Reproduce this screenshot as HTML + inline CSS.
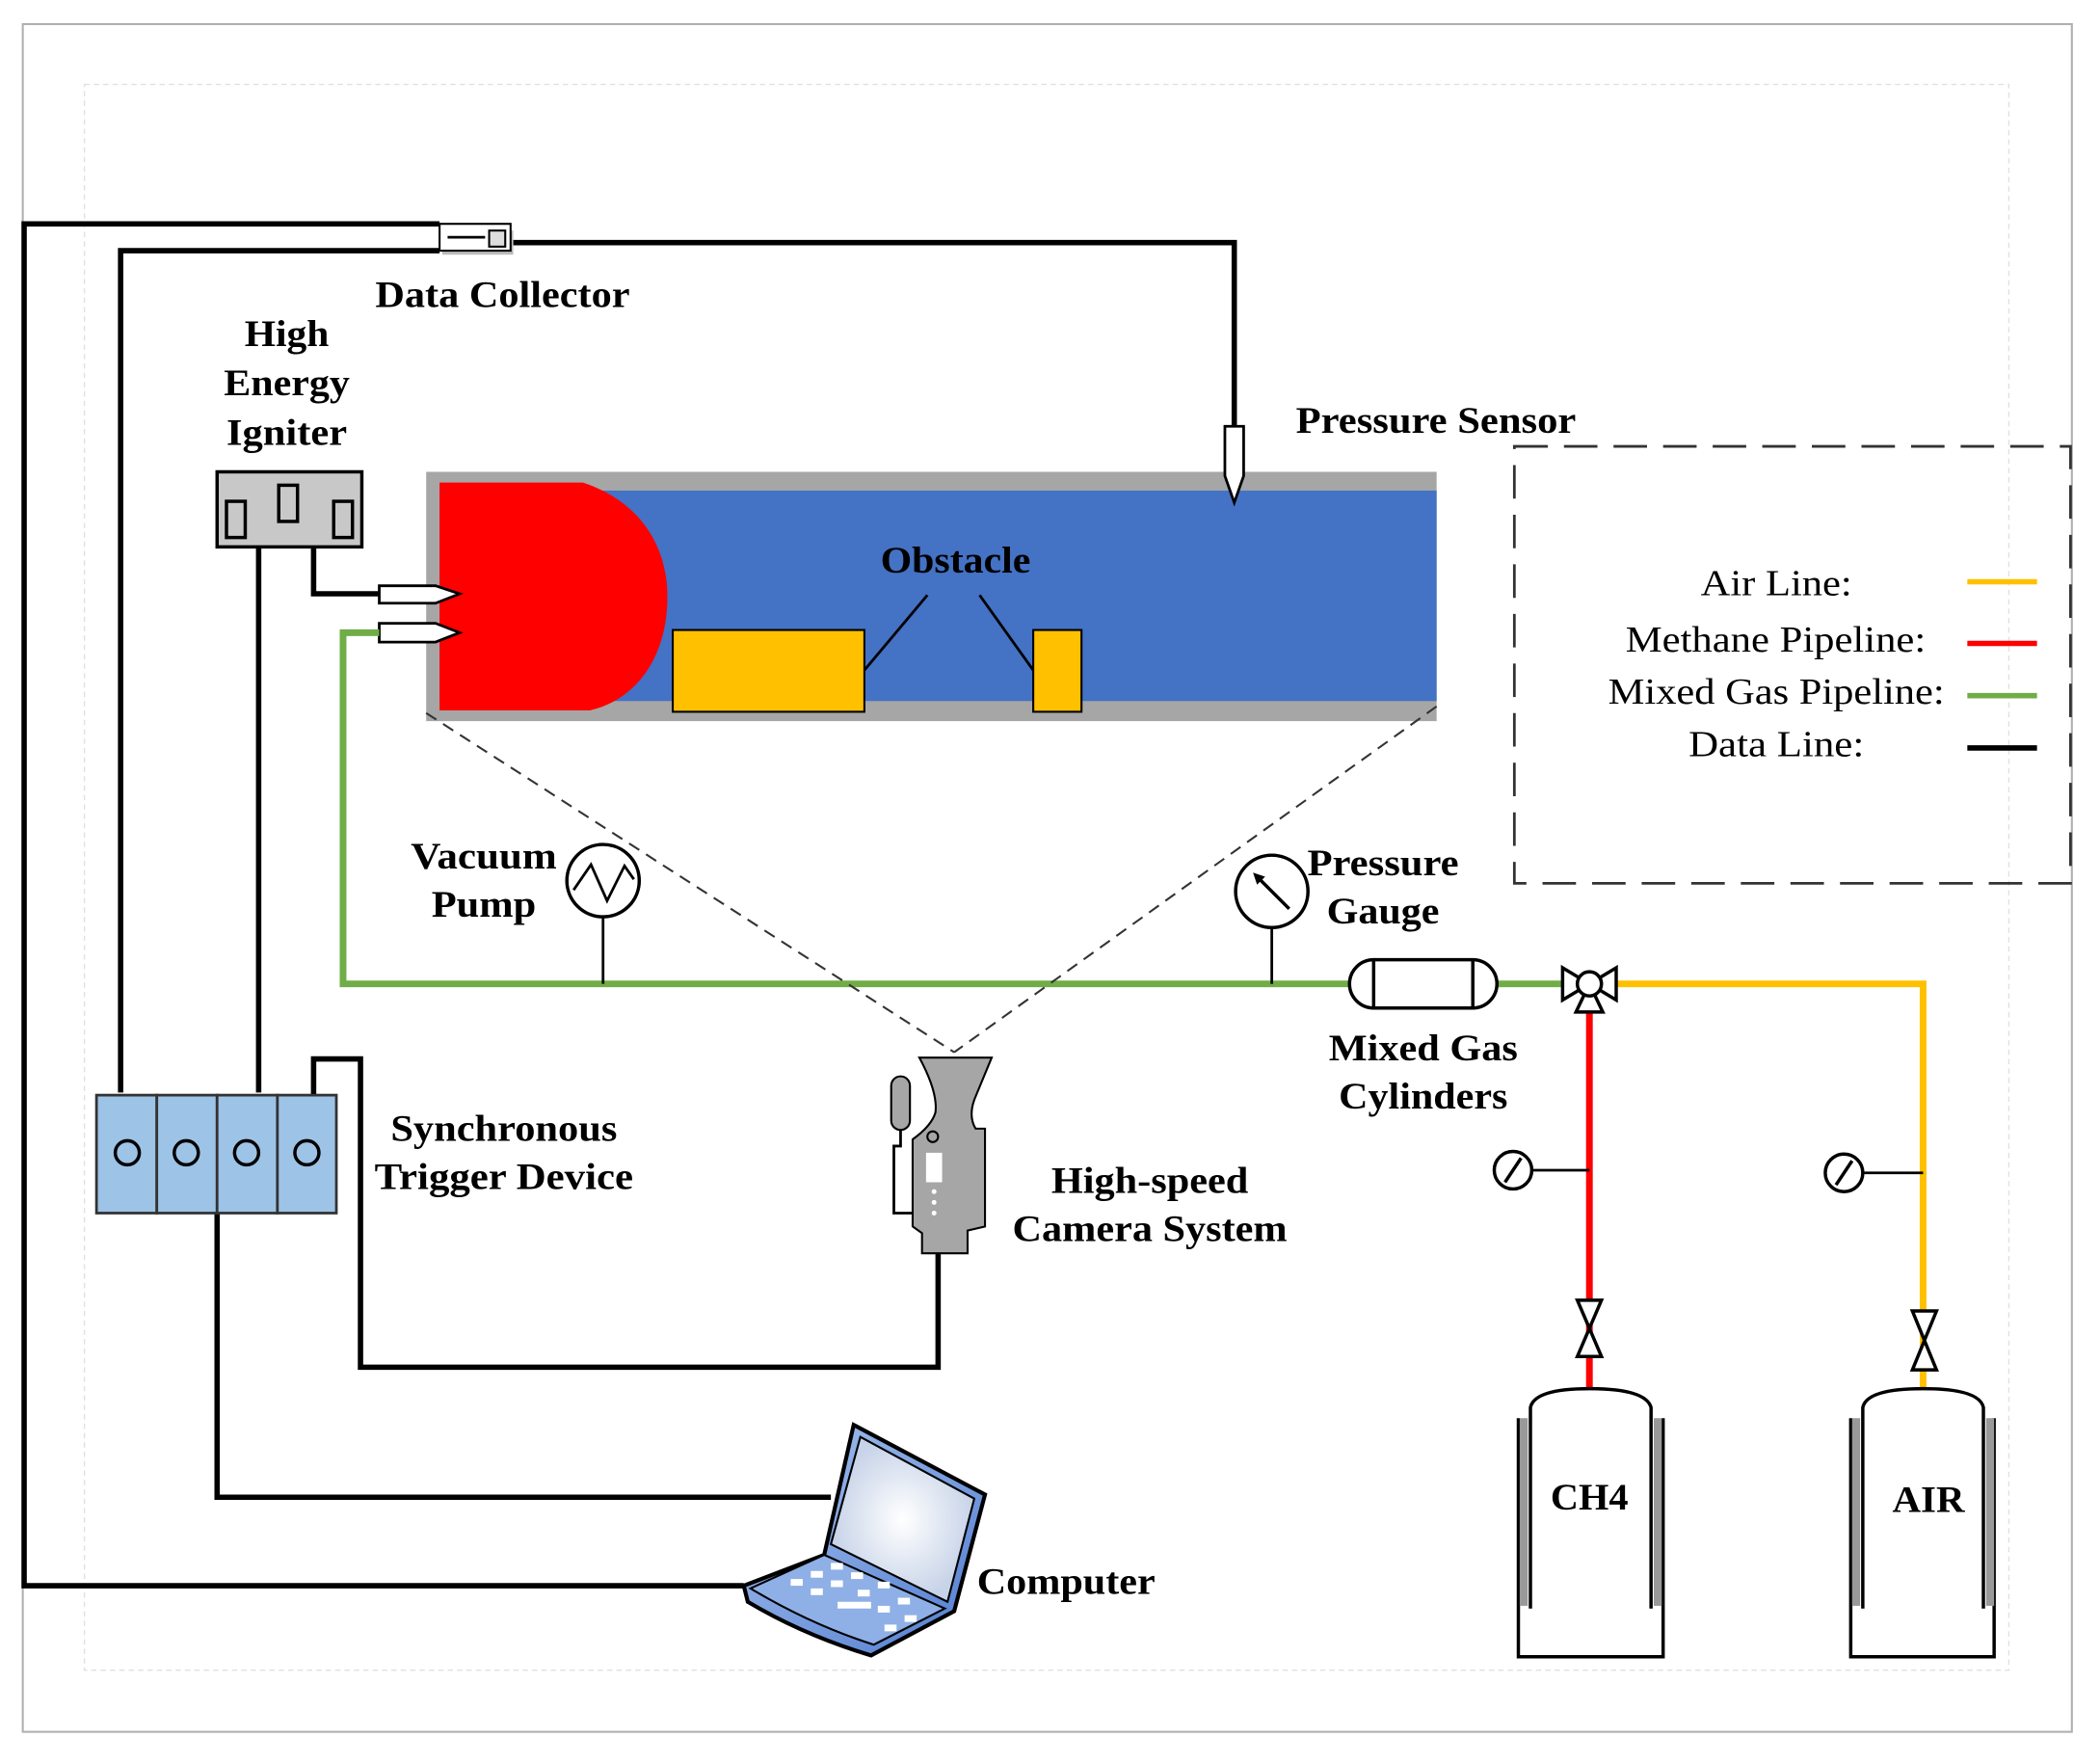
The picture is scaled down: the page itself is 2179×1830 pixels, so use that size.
<!DOCTYPE html>
<html><head><meta charset="utf-8"><style>
html,body{margin:0;padding:0;background:#fff}
svg{display:block}
text{font-family:"Liberation Serif",serif}
.b{font-weight:bold;font-size:28px}
.r{font-size:27px}
</style></head><body>
<svg width="2179" height="1830" viewBox="0 0 1567 1316" preserveAspectRatio="none" xmlns="http://www.w3.org/2000/svg">
<rect x="17" y="18" width="1529" height="1274" fill="none" stroke="#b0b0b0" stroke-width="1.5"/>
<rect x="63" y="63" width="1436" height="1183" fill="none" stroke="#e0e0e0" stroke-width="1" stroke-dasharray="4,3"/>

<!-- data lines -->
<g fill="none" stroke="#000" stroke-width="4">
<path d="M555,1183 H18 V167 H328"/>
<path d="M90,815 V187 H328"/>
<path d="M383,181 H921 V318"/>
<path d="M193,408 V815"/>
<path d="M234,408 V443 H283"/>
<path d="M234,817 V790 H269 V1020 H700 V935"/>
<path d="M162,905 V1117 H620"/>
</g>
<!-- data collector -->
<rect x="330" y="172" width="53" height="18" fill="#bbb"/>
<rect x="328" y="167" width="53" height="20" fill="#fff" stroke="#000" stroke-width="1.5"/>
<line x1="334" y1="177" x2="362" y2="177" stroke="#000" stroke-width="2"/>
<rect x="365" y="172" width="12" height="12" fill="#ddd" stroke="#000" stroke-width="1.5"/>

<!-- tube -->
<rect x="318" y="352" width="754" height="186" fill="#a6a6a6"/>
<rect x="328" y="366" width="744" height="157" fill="#4472c4"/>
<path d="M328,360 H435 C480,375 498,410 498,445 C498,490 475,522 440,530 H328 Z" fill="#ff0000"/>
<rect x="502" y="470" width="143" height="61" fill="#ffc000" stroke="#000" stroke-width="1.5"/>
<rect x="771" y="470" width="36" height="61" fill="#ffc000" stroke="#000" stroke-width="1.5"/>
<line x1="645" y1="500" x2="692" y2="444" stroke="#000" stroke-width="2"/>
<line x1="771" y1="500" x2="731" y2="444" stroke="#000" stroke-width="2"/>
<text class="b" x="713" y="427" text-anchor="middle" textLength="112" lengthAdjust="spacingAndGlyphs">Obstacle</text>
<!-- pressure sensor -->
<path d="M914,318 H928 V355 L921,375 L914,355 Z" fill="#fff" stroke="#000" stroke-width="2"/>

<!-- igniter -->
<rect x="162" y="352" width="108" height="56" fill="#c8c8c8" stroke="#000" stroke-width="2.5"/>
<rect x="169" y="374" width="14" height="27" fill="#c8c8c8" stroke="#000" stroke-width="2.5"/>
<rect x="208" y="362" width="14" height="27" fill="#c8c8c8" stroke="#000" stroke-width="2.5"/>
<rect x="249" y="374" width="14" height="27" fill="#c8c8c8" stroke="#000" stroke-width="2.5"/>
<!-- nozzles -->
<path d="M283,437 H325 L343,443 L325,450 H283 Z" fill="#fff" stroke="#000" stroke-width="2"/>
<path d="M283,465 H325 L343,472 L325,479 H283 Z" fill="#fff" stroke="#000" stroke-width="2"/>

<!-- green line -->
<path d="M283,472 H256 V734 H1010" fill="none" stroke="#70ad47" stroke-width="5"/>
<line x1="1115" y1="734" x2="1166" y2="734" stroke="#70ad47" stroke-width="5"/>
<!-- yellow / red -->
<path d="M1207,734 H1435 V1035" fill="none" stroke="#ffc000" stroke-width="5"/>
<line x1="1186" y1="755" x2="1186" y2="1037" stroke="#ff0000" stroke-width="5"/>

<!-- dashed view lines -->
<g stroke="#333" stroke-width="1.5" stroke-dasharray="9,6" fill="none">
<line x1="318" y1="532" x2="712" y2="785"/>
<line x1="1072" y1="527" x2="712" y2="785"/>
</g>

<!-- vacuum pump -->
<line x1="450" y1="684" x2="450" y2="734" stroke="#000" stroke-width="2"/>
<circle cx="450" cy="657" r="27" fill="#fff" stroke="#000" stroke-width="2.5"/>
<path d="M428,664 L441,645 L453,672 L466,646 L473,656" fill="none" stroke="#000" stroke-width="2"/>
<!-- pressure gauge -->
<line x1="949" y1="692" x2="949" y2="734" stroke="#000" stroke-width="2"/>
<circle cx="949" cy="665" r="27" fill="#fff" stroke="#000" stroke-width="2.5"/>
<line x1="937" y1="653" x2="962" y2="678" stroke="#000" stroke-width="2.5"/>
<path d="M935,651 L944,654 L938,660 Z" fill="#000"/>

<!-- mixed gas cylinder -->
<rect x="1007" y="716" width="110" height="36" rx="18" fill="#fff" stroke="#000" stroke-width="2.5"/>
<line x1="1025" y1="716" x2="1025" y2="752" stroke="#000" stroke-width="2.5"/>
<line x1="1099" y1="716" x2="1099" y2="752" stroke="#000" stroke-width="2.5"/>

<!-- 3-way valve -->
<g fill="#fff" stroke="#000" stroke-width="2.5">
<path d="M1166,722 L1186,734 L1166,746 Z"/>
<path d="M1206,722 L1186,734 L1206,746 Z"/>
<path d="M1176,755 L1186,734 L1196,755 Z"/>
<circle cx="1186" cy="734" r="9"/>
</g>

<!-- small gauges -->
<line x1="1143" y1="873" x2="1186" y2="873" stroke="#000" stroke-width="2"/>
<circle cx="1129" cy="873" r="14" fill="#fff" stroke="#000" stroke-width="2.5"/>
<line x1="1123" y1="882" x2="1135" y2="864" stroke="#000" stroke-width="2.5"/>
<line x1="1390" y1="875" x2="1435" y2="875" stroke="#000" stroke-width="2"/>
<circle cx="1376" cy="875" r="14" fill="#fff" stroke="#000" stroke-width="2.5"/>
<line x1="1370" y1="884" x2="1382" y2="866" stroke="#000" stroke-width="2.5"/>

<!-- valves -->
<path d="M1177,970 H1195 L1177,1012 H1195 Z" fill="#fff" stroke="#000" stroke-width="2.5"/>
<path d="M1427,978 H1445 L1427,1022 H1445 Z" fill="#fff" stroke="#000" stroke-width="2.5"/>

<!-- gas bottles -->
<g fill="none" stroke="#000" stroke-width="2.5">
<path d="M1133,1058 V1236 H1241 V1058"/>
<path d="M1142,1200 V1050 Q1145,1036 1186,1036 Q1228,1036 1232,1050 V1200"/>
<path d="M1381,1058 V1236 H1488 V1058"/>
<path d="M1390,1200 V1050 Q1393,1036 1435,1036 Q1477,1036 1480,1050 V1200"/>
</g>
<rect x="1134" y="1058" width="6" height="140" fill="#999"/>
<rect x="1234" y="1058" width="6" height="140" fill="#999"/>
<rect x="1382" y="1058" width="6" height="140" fill="#999"/>
<rect x="1482" y="1058" width="6" height="140" fill="#999"/>
<text class="b" x="1186" y="1126" text-anchor="middle" textLength="58" lengthAdjust="spacingAndGlyphs">CH4</text>
<text class="b" x="1439" y="1128" text-anchor="middle" textLength="54" lengthAdjust="spacingAndGlyphs">AIR</text>

<!-- sync trigger -->
<g fill="#9dc3e6" stroke="#333" stroke-width="2">
<rect x="72" y="817" width="45" height="88"/>
<rect x="117" y="817" width="45" height="88"/>
<rect x="162" y="817" width="45" height="88"/>
<rect x="207" y="817" width="44" height="88"/>
</g>
<g fill="none" stroke="#000" stroke-width="2.5">
<circle cx="95" cy="860" r="9"/><circle cx="139" cy="860" r="9"/><circle cx="184" cy="860" r="9"/><circle cx="229" cy="860" r="9"/>
</g>

<!-- camera -->
<path d="M686,789 H740 L728,818 Q722,832 728,842 H735 V915 L722,918 V935 H688 V920 L681,915 V850 Q695,840 698,830 Q700,815 686,789 Z" fill="#a6a6a6" stroke="#000" stroke-width="1.5"/>
<rect x="665" y="803" width="14" height="40" rx="7" fill="#a6a6a6" stroke="#000" stroke-width="1.5"/>
<path d="M672,843 V855 H667 V905 H681" fill="none" stroke="#000" stroke-width="2"/>
<circle cx="696" cy="848" r="4" fill="none" stroke="#000" stroke-width="1.5"/>
<rect x="691" y="860" width="12" height="22" fill="#fff"/>
<circle cx="697" cy="889" r="1.8" fill="#fff"/><circle cx="697" cy="897" r="1.8" fill="#fff"/><circle cx="697" cy="905" r="1.8" fill="#fff"/>

<!-- laptop -->
<defs>
<linearGradient id="lg" x1="0" y1="0" x2="1" y2="1"><stop offset="0" stop-color="#a9c4ee"/><stop offset="1" stop-color="#4f7bd0"/></linearGradient>
<radialGradient id="sc"><stop offset="0" stop-color="#fff"/><stop offset="1" stop-color="#c7d3e8"/></radialGradient>
</defs>
<path d="M637,1063 L735,1115 L712,1202 L650,1235 Q600,1220 558,1195 L555,1183 L615,1160 Z" fill="url(#lg)" stroke="#000" stroke-width="3"/>
<path d="M642,1072 L727,1118 L707,1195 L620,1152 Z" fill="url(#sc)" stroke="#000" stroke-width="1.5"/>
<path d="M560,1185 L615,1160 L705,1200 L652,1227 Q605,1212 560,1185 Z" fill="#8fb0e6" stroke="#000" stroke-width="1.5"/>
<g fill="#fff">
<rect x="590" y="1178" width="9" height="5"/><rect x="605" y="1172" width="9" height="5"/><rect x="620" y="1166" width="9" height="5"/>
<rect x="605" y="1185" width="9" height="5"/><rect x="620" y="1179" width="9" height="5"/><rect x="635" y="1173" width="9" height="5"/>
<rect x="625" y="1195" width="25" height="5"/><rect x="640" y="1186" width="9" height="5"/><rect x="655" y="1180" width="9" height="5"/>
<rect x="655" y="1198" width="9" height="5"/><rect x="670" y="1192" width="9" height="5"/><rect x="675" y="1205" width="9" height="5"/><rect x="660" y="1212" width="9" height="5"/>
</g>

<!-- legend -->
<rect x="1130" y="333" width="415" height="326" fill="none" stroke="#333" stroke-width="2" stroke-dasharray="25,12"/>
<text class="r" x="1382" y="444" text-anchor="end" textLength="113" lengthAdjust="spacingAndGlyphs">Air Line:</text>
<text class="r" x="1437" y="486" text-anchor="end" textLength="224" lengthAdjust="spacingAndGlyphs">Methane Pipeline:</text>
<text class="r" x="1451" y="525" text-anchor="end" textLength="251" lengthAdjust="spacingAndGlyphs">Mixed Gas Pipeline:</text>
<text class="r" x="1391" y="564" text-anchor="end" textLength="131" lengthAdjust="spacingAndGlyphs">Data Line:</text>
<line x1="1468" y1="434" x2="1520" y2="434" stroke="#ffc000" stroke-width="4"/>
<line x1="1468" y1="480" x2="1520" y2="480" stroke="#ff0000" stroke-width="4"/>
<line x1="1468" y1="519" x2="1520" y2="519" stroke="#70ad47" stroke-width="4"/>
<line x1="1468" y1="558" x2="1520" y2="558" stroke="#000" stroke-width="4"/>

<!-- labels -->
<text class="b" x="280" y="229" textLength="190" lengthAdjust="spacingAndGlyphs">Data Collector</text>
<text class="b" x="214" y="258" text-anchor="middle" textLength="63" lengthAdjust="spacingAndGlyphs">High</text>
<text class="b" x="214" y="295" text-anchor="middle" textLength="94" lengthAdjust="spacingAndGlyphs">Energy</text>
<text class="b" x="214" y="332" text-anchor="middle" textLength="90" lengthAdjust="spacingAndGlyphs">Igniter</text>
<text class="b" x="967" y="323" textLength="209" lengthAdjust="spacingAndGlyphs">Pressure Sensor</text>
<text class="b" x="361" y="648" text-anchor="middle" textLength="109" lengthAdjust="spacingAndGlyphs">Vacuum</text>
<text class="b" x="361" y="684" text-anchor="middle" textLength="78" lengthAdjust="spacingAndGlyphs">Pump</text>
<text class="b" x="1032" y="653" text-anchor="middle" textLength="113" lengthAdjust="spacingAndGlyphs">Pressure</text>
<text class="b" x="1032" y="689" text-anchor="middle" textLength="84" lengthAdjust="spacingAndGlyphs">Gauge</text>
<text class="b" x="1062" y="791" text-anchor="middle" textLength="141" lengthAdjust="spacingAndGlyphs">Mixed Gas</text>
<text class="b" x="1062" y="827" text-anchor="middle" textLength="126" lengthAdjust="spacingAndGlyphs">Cylinders</text>
<text class="b" x="376" y="851" text-anchor="middle" textLength="169" lengthAdjust="spacingAndGlyphs">Synchronous</text>
<text class="b" x="376" y="887" text-anchor="middle" textLength="193" lengthAdjust="spacingAndGlyphs">Trigger Device</text>
<text class="b" x="858" y="890" text-anchor="middle" textLength="147" lengthAdjust="spacingAndGlyphs">High-speed</text>
<text class="b" x="858" y="926" text-anchor="middle" textLength="205" lengthAdjust="spacingAndGlyphs">Camera System</text>
<text class="b" x="729" y="1189" textLength="133" lengthAdjust="spacingAndGlyphs">Computer</text>
</svg>
</body></html>
